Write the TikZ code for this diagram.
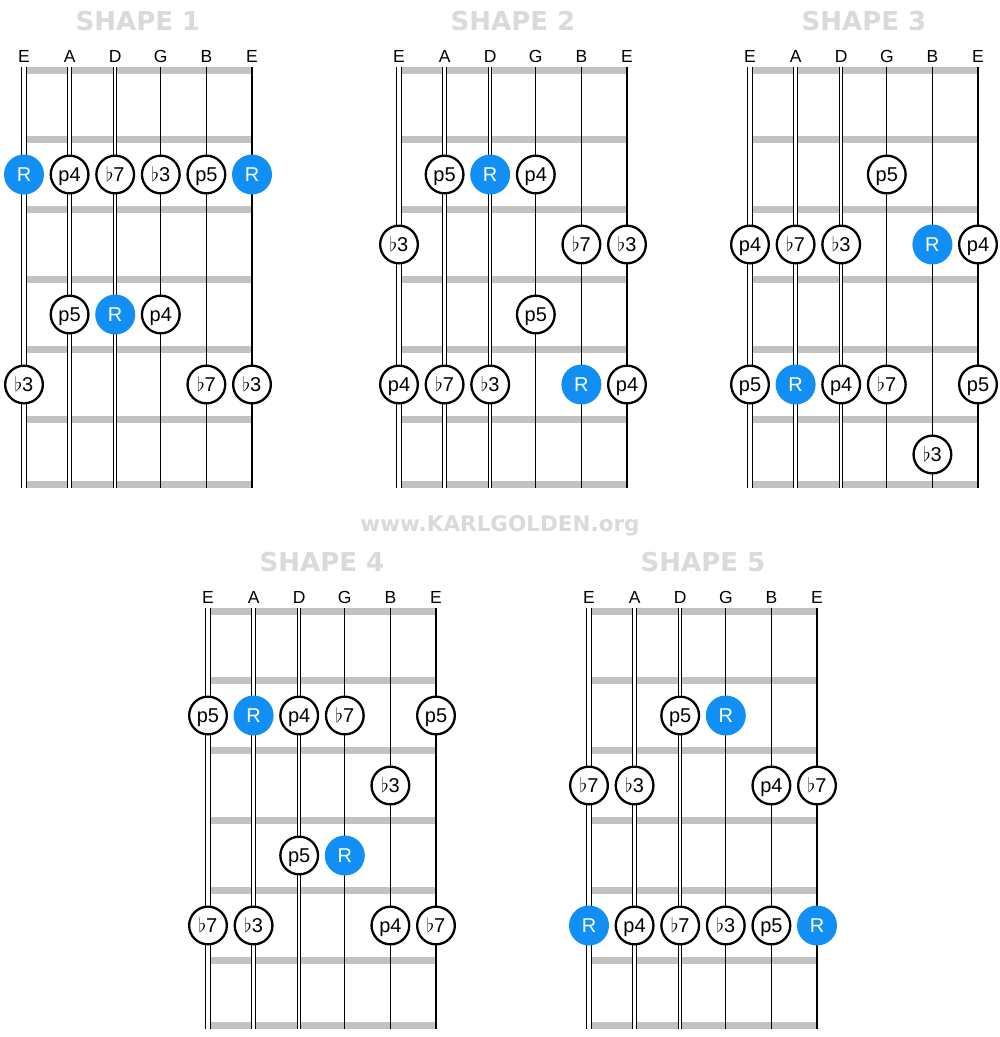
\RequirePackage{fix-cm}
\documentclass[tikz,border=0pt]{standalone}
\usepackage{fontspec}
\setmainfont{Liberation Sans}
\newfontfamily\titlefont{DejaVu Sans}
\definecolor{rootblue}{RGB}{18,143,245}
\definecolor{fretgray}{RGB}{194,194,194}
\definecolor{titlegray}{RGB}{218,218,218}
\tikzset{
  notefont/.style={font=\fontsize{20}{20}\selectfont, text height=14.3pt, text depth=0pt, inner sep=0pt},
  note/.style={circle, draw=black, line width=2.3pt, fill=white, minimum size=37.7pt, notefont},
  root/.style={circle, fill=rootblue, minimum size=40pt, text=white, notefont},
  title/.style={anchor=base, text=titlegray, font=\titlefont\bfseries\fontsize{26}{26}\selectfont, inner sep=0pt},
  strlbl/.style={anchor=base, font=\fontsize{17.5}{17.5}\selectfont, inner sep=0pt},
  fret/.style={draw=fretgray, line width=7pt},
  str6/.style={draw=black, line width=1.1pt, double=white, double distance=3.5pt},
  str5/.style={draw=black, line width=1.1pt, double=white, double distance=2.8pt},
  str4/.style={draw=black, line width=1pt, double=white, double distance=2.1pt},
  str3/.style={draw=black, line width=1.3pt},
}
\newcommand\fl{$\flat$}
\newcommand\board[1]{%
  \node[title] (title#1) at (114,-39.5) {SHAPE #1};
  \foreach \s [count=\i from 0] in {E,A,D,G,B,E}{\node[strlbl] (lbl#1-\i) at ({\i*45.6},-7.3) {\s};}
  \foreach \f in {0,69.5,139.5,209.5,279.5,349.5,414}{\draw[fret] (0,\f) -- (228,\f);}
  \draw[str6] (0,-3) -- (0,417.5);
  \draw[str5] (45.6,-3) -- (45.6,417.5);
  \draw[str4] (91.2,-3) -- (91.2,417.5);
  \draw[str3] (136.8,-3) -- (136.8,417.5);
  \draw[str3] (182.4,-3) -- (182.4,417.5);
  \draw[str3] (228,-3) -- (228,417.5);
}
\newcommand\nt[5]{\node[#1] (#2) at ({#3*45.6},{34.5+70*#4}) {#5};}
\begin{document}
\begin{tikzpicture}[x=1pt,y=-1pt]
\useasboundingbox[fill=white] (0,0) rectangle (1000,1037);
% Shape 1
\begin{scope}[shift={(24,70)}]
\board{1}
\nt{root}{a1}{0}{1}{R}
\nt{note}{a2}{1}{1}{p4}
\nt{note}{a3}{2}{1}{\fl7}
\nt{note}{a4}{3}{1}{\fl3}
\nt{note}{a5}{4}{1}{p5}
\nt{root}{a6}{5}{1}{R}
\nt{note}{a7}{1}{3}{p5}
\nt{root}{a8}{2}{3}{R}
\nt{note}{a9}{3}{3}{p4}
\nt{note}{a10}{0}{4}{\fl3}
\nt{note}{a11}{4}{4}{\fl7}
\nt{note}{a12}{5}{4}{\fl3}
\end{scope}
% Shape 2
\begin{scope}[shift={(399,70)}]
\board{2}
\nt{note}{b1}{1}{1}{p5}
\nt{root}{b2}{2}{1}{R}
\nt{note}{b3}{3}{1}{p4}
\nt{note}{b4}{0}{2}{\fl3}
\nt{note}{b5}{4}{2}{\fl7}
\nt{note}{b6}{5}{2}{\fl3}
\nt{note}{b7}{3}{3}{p5}
\nt{note}{b8}{0}{4}{p4}
\nt{note}{b9}{1}{4}{\fl7}
\nt{note}{b10}{2}{4}{\fl3}
\nt{root}{b11}{4}{4}{R}
\nt{note}{b12}{5}{4}{p4}
\end{scope}
% Shape 3
\begin{scope}[shift={(750,70)}]
\board{3}
\nt{note}{c1}{3}{1}{p5}
\nt{note}{c2}{0}{2}{p4}
\nt{note}{c3}{1}{2}{\fl7}
\nt{note}{c4}{2}{2}{\fl3}
\nt{root}{c5}{4}{2}{R}
\nt{note}{c6}{5}{2}{p4}
\nt{note}{c7}{0}{4}{p5}
\nt{root}{c8}{1}{4}{R}
\nt{note}{c9}{2}{4}{p4}
\nt{note}{c10}{3}{4}{\fl7}
\nt{note}{c11}{5}{4}{p5}
\nt{note}{c12}{4}{5}{\fl3}
\end{scope}
% Shape 4
\begin{scope}[shift={(208,611)}]
\board{4}
\nt{note}{d1}{0}{1}{p5}
\nt{root}{d2}{1}{1}{R}
\nt{note}{d3}{2}{1}{p4}
\nt{note}{d4}{3}{1}{\fl7}
\nt{note}{d5}{5}{1}{p5}
\nt{note}{d6}{4}{2}{\fl3}
\nt{note}{d7}{2}{3}{p5}
\nt{root}{d8}{3}{3}{R}
\nt{note}{d9}{0}{4}{\fl7}
\nt{note}{d10}{1}{4}{\fl3}
\nt{note}{d11}{4}{4}{p4}
\nt{note}{d12}{5}{4}{\fl7}
\end{scope}
% Shape 5
\begin{scope}[shift={(589,611)}]
\board{5}
\nt{note}{e1}{2}{1}{p5}
\nt{root}{e2}{3}{1}{R}
\nt{note}{e3}{0}{2}{\fl7}
\nt{note}{e4}{1}{2}{\fl3}
\nt{note}{e5}{4}{2}{p4}
\nt{note}{e6}{5}{2}{\fl7}
\nt{root}{e7}{0}{4}{R}
\nt{note}{e8}{1}{4}{p4}
\nt{note}{e9}{2}{4}{\fl7}
\nt{note}{e10}{3}{4}{\fl3}
\nt{note}{e11}{4}{4}{p5}
\nt{root}{e12}{5}{4}{R}
\end{scope}
\node[anchor=base, text=titlegray, font=\titlefont\bfseries\fontsize{21.5}{22}\selectfont, inner sep=0pt] (web) at (500,531) {www.KARLGOLDEN.org};
\end{tikzpicture}
\end{document}
